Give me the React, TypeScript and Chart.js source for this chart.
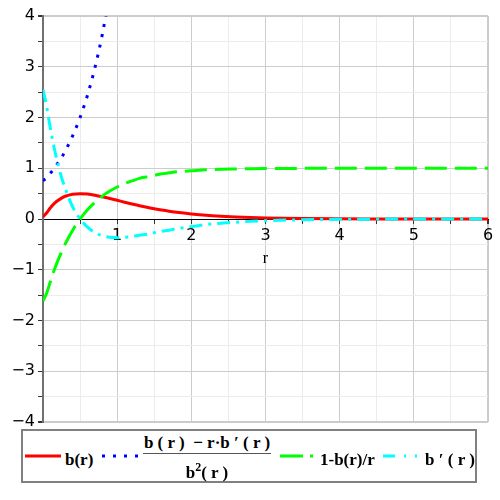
import React, { useEffect, useRef } from "react";
import { Chart, registerables } from "chart.js";

Chart.register(...registerables);

// r sample positions (x axis)
const rValues = [0, 0.05, 0.1, 0.15, 0.2, 0.25, 0.3, 0.4, 0.5, 0.6, 0.7, 0.8, 0.9, 1.0, 1.1, 1.2, 1.3, 1.4, 1.5, 1.6, 1.7, 1.8, 1.9, 2.0, 2.2, 2.4, 2.6, 2.8, 3.0, 3.5, 4, 4.5, 5, 5.5, 6];
// b(r)
const bValues = [0.04, 0.123, 0.223, 0.302, 0.364, 0.412, 0.448, 0.489, 0.5, 0.491, 0.469, 0.439, 0.404, 0.368, 0.331, 0.296, 0.262, 0.231, 0.203, 0.177, 0.154, 0.134, 0.116, 0.1, 0.073, 0.054, 0.039, 0.028, 0.02, 0.009, 0.004, 0.002, 0.001, 0, 0];
// (b(r) - r b'(r)) / b^2(r)  (only up to where it leaves the plot)
const quotientValues = [0.755, 0.81, 0.9, 0.99, 1.1, 1.21, 1.34, 1.64, 2.0, 2.44, 2.98, 3.64, 4.45];
// 1 - b(r)/r
const oneMinusValues = [-1.62, -1.46, -1.23, -1.01, -0.82, -0.65, -0.49, -0.22, 0, 0.18, 0.33, 0.45, 0.55, 0.63, 0.7, 0.75, 0.8, 0.83, 0.86, 0.89, 0.91, 0.93, 0.94, 0.95, 0.97, 0.98, 0.985, 0.99, 0.993, 0.998, 1, 1, 1, 1, 1];
// b'(r)
const bPrimeValues = [2.55, 2.21, 1.78, 1.41, 1.09, 0.82, 0.6, 0.24, 0, -0.16, -0.27, -0.33, -0.36, -0.37, -0.36, -0.345, -0.32, -0.3, -0.27, -0.24, -0.22, -0.19, -0.17, -0.15, -0.11, -0.085, -0.063, -0.046, -0.034, -0.015, -0.006, -0.002, -0.001, 0, 0];

const xMin = 0;
const xMax = 6;
const yMin = -4;
const yMax = 4;
const axisLabel = "r";

const toPoints = (ys: number[]) => ys.map((y, i) => ({ x: rValues[i], y }));

const rLabelPlugin = {
  id: "rLabel",
  afterDraw(chart: any) {
    const ctx = chart.ctx;
    const x = chart.scales.x.getPixelForValue(3);
    const y = chart.scales.y.getPixelForValue(0);
    ctx.save();
    ctx.font = '16px "Liberation Serif", serif';
    ctx.fillStyle = "#000";
    ctx.textAlign = "center";
    ctx.textBaseline = "alphabetic";
    ctx.fillText(axisLabel, x, y + 44);
    ctx.restore();
  },
};

const isInt = (v: number) => Math.abs(v - Math.round(v)) < 1e-9;

function ChartCanvas() {
  const ref = useRef<HTMLCanvasElement | null>(null);
  useEffect(() => {
    if (!ref.current) return;
    const chart = new Chart(ref.current, {
      type: "line",
      data: {
        datasets: [
          {
            label: "b(r)",
            data: toPoints(bValues),
            borderColor: "#ff0000",
            borderWidth: 3,
            pointRadius: 0,
            cubicInterpolationMode: "monotone",
            order: 4,
          },
          {
            label: "quotient",
            data: toPoints(quotientValues),
            borderColor: "#0000ff",
            borderWidth: 3,
            borderDash: [3, 7.5],
            pointRadius: 0,
            cubicInterpolationMode: "monotone",
            order: 3,
          },
          {
            label: "1-b(r)/r",
            data: toPoints(oneMinusValues),
            borderColor: "#00ff00",
            borderWidth: 3,
            borderDash: [22, 8],
            pointRadius: 0,
            cubicInterpolationMode: "monotone",
            order: 2,
          },
          {
            label: "b'(r)",
            data: toPoints(bPrimeValues),
            borderColor: "#00ffff",
            borderWidth: 3,
            borderDash: [13, 6, 3, 6],
            pointRadius: 0,
            cubicInterpolationMode: "monotone",
            order: 1,
          },
        ],
      },
      options: {
        responsive: false,
        animation: false,
        layout: { padding: { left: 0, right: 12, top: 16, bottom: 78 } },
        plugins: { legend: { display: false }, tooltip: { enabled: false } },
        scales: {
          x: {
            type: "linear",
            min: xMin,
            max: xMax,
            position: { y: 0 } as any,
            afterFit: (s: any) => {
              s.height = 0;
            },
            border: { color: "#000", width: 1 },
            grid: {
              color: (c: any) =>
                c.tick && c.tick.value === 0
                  ? "rgba(0,0,0,0)"
                  : c.tick && isInt(c.tick.value)
                  ? "#cccccc"
                  : "#ececec",
              lineWidth: (c: any) => (c.tick && c.tick.value === xMax ? 2 : 1),
              tickLength: 4,
              tickColor: "#333",
            },
            ticks: {
              stepSize: 0.5,
              autoSkip: false,
              maxRotation: 0,
              padding: 3,
              color: "#000",
              font: { family: '"DejaVu Sans", sans-serif', size: 16 },
              callback: (v: any) => (isInt(v) && v !== 0 ? String(v) : ""),
            },
          },
          y: {
            type: "linear",
            min: yMin,
            max: yMax,
            afterFit: (s: any) => {
              s.width = 43;
            },
            border: { color: "#707070", width: 2 },
            grid: {
              color: (c: any) =>
                c.tick && c.tick.value === 0
                  ? "rgba(0,0,0,0)"
                  : c.tick && isInt(c.tick.value)
                  ? "#cccccc"
                  : "#ececec",
              lineWidth: (c: any) =>
                c.tick && (c.tick.value === yMax || c.tick.value === yMin) ? 2 : 1,
              tickLength: 5,
              tickColor: "#333",
            },
            ticks: {
              stepSize: 0.5,
              autoSkip: false,
              padding: 3,
              color: "#000",
              font: { family: '"DejaVu Sans", sans-serif', size: 16 },
              callback: (v: any) =>
                isInt(v) ? (v < 0 ? "\u2212" + Math.abs(v) : String(v)) : "",
            },
          },
        },
      },
      plugins: [rLabelPlugin],
    } as any);
    return () => chart.destroy();
  }, []);
  return <canvas ref={ref} width={500} height={500} style={{ display: "block" }} />;
}

const textStyle: React.CSSProperties = {
  position: "absolute",
  fontFamily: '"Liberation Serif", "Times New Roman", serif',
  fontWeight: "bold",
  fontSize: 17,
  lineHeight: "20px",
  color: "#000",
  whiteSpace: "pre",
};

function Swatch({ left, color, dash }: { left: number; color: string; dash?: string }) {
  return (
    <svg
      width={36}
      height={6}
      style={{ position: "absolute", left, top: 22 }}
    >
      <line x1={0} y1={3} x2={36} y2={3} stroke={color} strokeWidth={3} strokeDasharray={dash} />
    </svg>
  );
}

function Legend() {
  return (
    <div
      style={{
        position: "absolute",
        left: 21,
        top: 429,
        width: 456,
        height: 54,
        boxSizing: "border-box",
        border: "2px solid #808080",
        background: "#fff",
      }}
    >
      <Swatch left={2} color="#ff0000" />
      <span style={{ ...textStyle, left: 42, top: 19 }}>b(r)</span>
      <Swatch left={79} color="#0000ff" dash="3 8" />
      <div style={{ ...textStyle, left: 120, width: 128, top: 2, textAlign: "center" }}>
        {"b ( r )  \u2212 r\u00b7b \u2032 ( r )"}
      </div>
      <div style={{ position: "absolute", left: 120, width: 128, top: 22, height: 1, background: "#555" }} />
      <div style={{ ...textStyle, left: 120, width: 128, top: 32, textAlign: "center" }}>
        b<span style={{ fontSize: 12, position: "relative", top: -7 }}>2</span>( r )
      </div>
      <Swatch left={257} color="#00ff00" dash="23 7 3 100" />
      <span style={{ ...textStyle, left: 297, top: 19 }}>1-b(r)/r</span>
      <Swatch left={360} color="#00ffff" dash="12 9 2 9 2 100" />
      <span style={{ ...textStyle, left: 402, top: 19 }}>{"b \u2032 ( r )"}</span>
    </div>
  );
}

export default function App() {
  return (
    <div
      style={{
        position: "absolute",
        left: 0,
        top: 0,
        width: 500,
        height: 500,
        background: "#fff",
        overflow: "hidden",
      }}
    >
      <ChartCanvas />
      <Legend />
    </div>
  );
}
